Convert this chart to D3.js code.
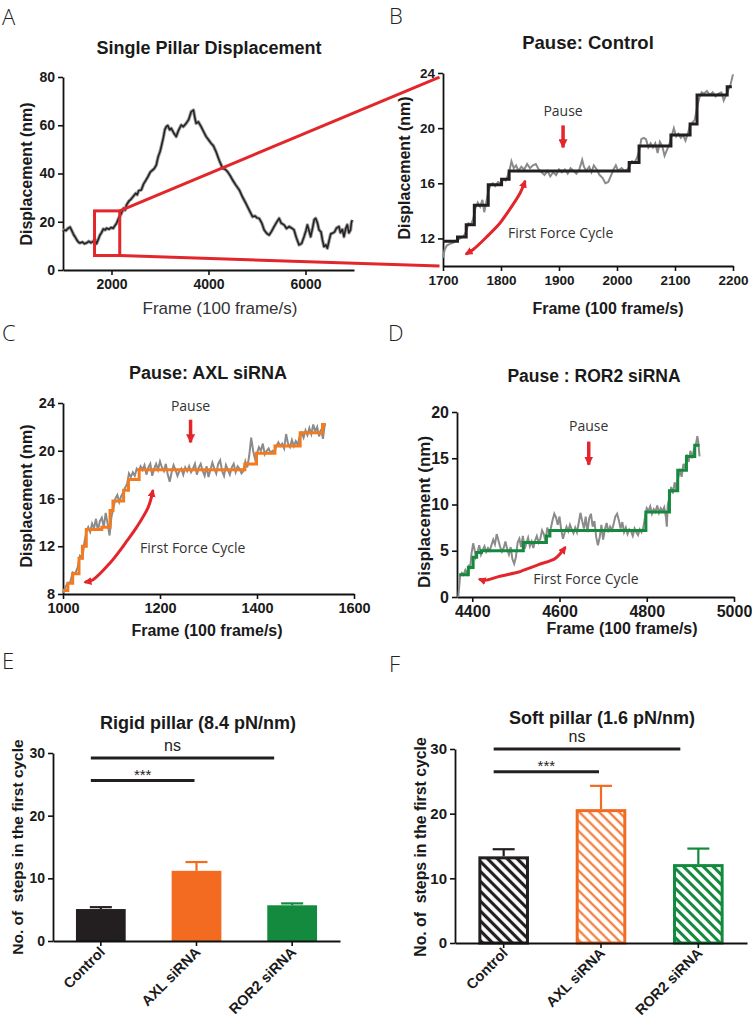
<!DOCTYPE html>
<html><head><meta charset="utf-8">
<script src="https://cdn.jsdelivr.net/npm/d3@7"></script>
<style>body{margin:0;background:#fff} svg{display:block}</style>
</head><body>
<svg id="fig" width="752" height="1022"></svg>
<script>
// ---------------- DATA ----------------
// Panel A: single pillar displacement trace [frame, nm]
const traceA = [[1000,15.9],[1030,16.6],[1060,16.3],[1100,17.2],[1144,17.8],[1180,16.4],[1220,14.6],[1246,13.8],[1290,12.3],[1320,11.5],[1350,11.2],[1400,11.6],[1440,10.9],[1486,11.2],[1530,11.9],[1580,11.3],[1622,11.9],[1660,12.6],[1692,10.9],[1730,12.8],[1760,14.4],[1795,15.5],[1830,17.0],[1870,16.6],[1897,17.3],[1950,16.9],[1990,17.6],[2035,17.3],[2070,18.4],[2103,19.3],[2150,21.6],[2205,23.5],[2250,25.6],[2280,24.8],[2308,26.9],[2360,28.6],[2400,29.3],[2444,30.4],[2500,31.8],[2530,31.2],[2560,32.9],[2615,33.2],[2660,35.6],[2700,36.9],[2752,38.7],[2800,40.6],[2840,41.3],[2880,42.0],[2923,43.5],[2960,46.8],[3000,49.0],[3026,51.1],[3070,55.0],[3100,58.2],[3129,59.4],[3160,59.9],[3200,58.1],[3232,58.7],[3280,56.9],[3334,55.3],[3380,57.8],[3437,60.1],[3480,59.4],[3540,60.8],[3590,62.3],[3643,65.6],[3690,66.3],[3720,63.0],[3745,60.8],[3790,61.4],[3848,59.4],[3900,57.3],[3951,55.3],[4000,54.0],[4053,52.5],[4100,51.5],[4156,49.0],[4220,45.5],[4292,42.1],[4340,41.8],[4395,40.7],[4450,39.0],[4497,37.3],[4560,35.3],[4634,33.2],[4700,30.3],[4771,27.6],[4840,24.8],[4908,22.1],[4960,22.4],[5000,21.6],[5045,21.4],[5100,19.4],[5148,16.6],[5200,15.2],[5251,14.5],[5300,16.0],[5353,18.0],[5400,19.6],[5456,21.4],[5500,19.4],[5559,18.7],[5610,17.2],[5661,18.0],[5720,17.3],[5764,16.6],[5810,13.5],[5867,10.4],[5920,11.0],[5970,13.8],[6010,16.4],[6039,18.7],[6075,16.2],[6107,13.8],[6150,17.8],[6180,20.9],[6210,21.4],[6245,19.6],[6279,16.6],[6320,15.8],[6350,12.4],[6381,9.7],[6420,10.4],[6450,9.0],[6490,12.5],[6520,15.0],[6553,15.2],[6600,15.8],[6640,17.4],[6690,18.0],[6720,15.5],[6760,16.8],[6793,13.8],[6830,17.2],[6861,18.7],[6895,15.4],[6929,16.6],[6945,19.5],[6963,20.7]];
// zoom box drawn in panel A [frame0, frame1, nm0, nm1]
const zoomBox = [1650, 2170, 6, 24.5];

// Panel B: control (grey raw, black step fit)
const rawB = [[1700,10.6],[1703,11.2],[1707,11.5],[1712,11.6],[1718,11.7],[1724,11.9],[1730,12.0],[1736,12.2],[1740,12.5],[1744,13.1],[1748,13.0],[1752,13.4],[1756,14.2],[1760,14.6],[1764,14.3],[1768,14.8],[1771,13.9],[1774,14.5],[1778,15.4],[1782,15.9],[1786,16.0],[1790,15.8],[1795,16.1],[1800,16.0],[1804,16.3],[1808,16.2],[1812,16.6],[1815,17.0],[1818,17.6],[1822,17.1],[1826,17.3],[1830,16.9],[1835,17.2],[1840,17.0],[1845,17.4],[1850,17.1],[1855,17.3],[1860,17.4],[1865,17.0],[1870,16.8],[1875,16.6],[1880,16.9],[1885,16.5],[1890,16.8],[1895,16.6],[1900,17.0],[1905,16.8],[1910,17.0],[1915,16.7],[1920,17.1],[1925,16.9],[1930,16.7],[1935,17.0],[1940,17.7],[1943,17.2],[1947,16.9],[1952,17.2],[1956,16.8],[1960,17.3],[1965,17.0],[1970,16.6],[1975,16.4],[1980,16.0],[1985,16.1],[1990,16.6],[1994,17.0],[1998,17.3],[2002,16.9],[2008,17.1],[2013,16.9],[2018,17.0],[2022,17.3],[2026,17.6],[2030,17.5],[2034,17.8],[2038,18.3],[2042,19.2],[2046,19.3],[2050,19.2],[2054,18.6],[2058,18.9],[2062,18.6],[2066,18.9],[2070,18.2],[2074,19.0],[2078,18.7],[2082,18.0],[2086,18.4],[2090,18.8],[2094,19.4],[2098,20.0],[2102,19.4],[2106,19.6],[2110,19.3],[2114,19.5],[2118,19.1],[2122,19.6],[2126,20.2],[2130,20.4],[2134,20.6],[2138,21.5],[2142,22.2],[2146,22.6],[2150,22.5],[2155,22.7],[2160,22.4],[2165,22.6],[2170,22.3],[2175,22.5],[2180,22.6],[2184,22.0],[2188,22.4],[2192,22.8],[2196,23.2],[2200,23.9]];
const stepsB = [[1700,11.8],[1725,12.1],[1740,13.0],[1754,14.4],[1778,15.9],[1801,16.3],[1814,16.9],[2021,17.5],[2038,18.7],[2093,19.5],[2126,20.3],[2138,22.4],[2190,23.0],[2198,23.0]];
const cycleB = [[1741,10.9],[1752,11.2],[1775,12.1],[1798,13.1],[1810,13.8],[1833,15.3],[1841,16.1]];

// Panel C: AXL siRNA
const rawC = [[1000,8.1],[1005,8.6],[1010,8.9],[1015,9.0],[1020,9.8],[1025,9.7],[1030,10.2],[1035,11.2],[1040,11.0],[1044,12.3],[1048,13.2],[1052,13.6],[1056,13.2],[1060,13.9],[1064,13.5],[1068,14.3],[1072,13.3],[1076,14.1],[1080,14.4],[1084,13.6],[1088,14.8],[1092,13.9],[1096,12.9],[1100,14.5],[1104,15.2],[1108,16.0],[1112,16.3],[1116,15.7],[1120,16.2],[1124,16.5],[1128,16.9],[1132,17.2],[1136,18.1],[1140,17.8],[1144,18.2],[1148,17.9],[1152,18.5],[1156,18.3],[1160,18.7],[1164,18.4],[1168,18.8],[1172,18.0],[1176,18.6],[1180,18.9],[1184,17.9],[1188,18.5],[1192,18.9],[1196,18.4],[1200,19.1],[1204,18.6],[1208,18.3],[1212,18.9],[1216,18.0],[1220,17.4],[1224,18.2],[1228,18.8],[1232,18.4],[1236,17.9],[1240,18.3],[1244,18.5],[1248,18.0],[1252,18.6],[1256,18.3],[1260,18.7],[1264,18.2],[1268,18.5],[1272,18.9],[1276,18.0],[1280,18.6],[1284,18.9],[1288,18.3],[1292,17.9],[1296,18.7],[1300,17.8],[1304,18.4],[1308,19.0],[1312,18.5],[1316,18.1],[1320,18.9],[1324,19.2],[1328,18.3],[1332,17.9],[1336,18.8],[1340,18.4],[1344,18.0],[1348,18.6],[1352,18.9],[1356,18.2],[1360,18.7],[1364,18.5],[1368,18.1],[1372,18.3],[1376,19.1],[1380,18.6],[1384,19.6],[1388,21.1],[1392,20.0],[1396,19.3],[1400,19.8],[1404,20.3],[1408,20.0],[1412,20.6],[1416,19.7],[1420,20.0],[1424,20.2],[1428,19.8],[1432,20.0],[1436,19.9],[1440,20.4],[1444,20.7],[1448,20.4],[1452,20.6],[1456,20.2],[1460,21.4],[1464,20.6],[1468,20.3],[1472,20.9],[1476,20.4],[1480,20.8],[1484,20.5],[1488,21.2],[1492,21.5],[1496,21.1],[1500,21.7],[1504,21.3],[1508,21.9],[1512,21.4],[1516,22.2],[1520,21.6],[1524,22.0],[1528,21.2],[1532,21.8],[1536,21.0],[1540,22.3]];
const stepsC = [[1000,8.3],[1010,8.9],[1020,9.7],[1033,11.0],[1040,12.0],[1048,13.4],[1080,13.6],[1097,15.0],[1103,15.8],[1125,16.7],[1135,17.6],[1157,18.4],[1375,18.9],[1399,19.8],[1437,20.4],[1489,21.5],[1535,22.2],[1542,22.2]];
const cycleC = [[1047,9.0],[1062,9.2],[1097,10.6],[1124,12.0],[1131,12.4],[1152,13.6],[1176,15.3],[1185,16.6]];

// Panel D: ROR2 siRNA
const rawD = [[4368,0.0],[4372,2.2],[4376,2.6],[4380,2.4],[4384,2.9],[4388,2.5],[4392,3.5],[4395,3.0],[4398,4.6],[4402,5.8],[4405,5.2],[4408,4.3],[4412,4.8],[4416,5.6],[4420,4.6],[4424,5.1],[4428,5.5],[4432,4.9],[4436,5.3],[4440,5.0],[4444,5.6],[4448,6.2],[4452,5.7],[4456,6.8],[4460,6.1],[4464,5.4],[4468,4.9],[4472,5.3],[4476,6.0],[4480,5.2],[4484,4.6],[4488,5.4],[4492,4.1],[4496,3.6],[4500,4.3],[4504,5.9],[4508,6.3],[4512,5.4],[4516,6.6],[4520,5.2],[4524,5.8],[4528,6.4],[4532,5.5],[4536,6.0],[4540,5.3],[4544,6.1],[4548,6.6],[4552,5.9],[4556,6.3],[4560,7.2],[4564,6.8],[4568,6.0],[4572,7.5],[4576,6.9],[4580,7.4],[4584,8.3],[4588,9.0],[4592,8.6],[4596,7.8],[4600,8.7],[4604,7.2],[4608,6.3],[4612,7.0],[4616,7.6],[4620,7.1],[4624,7.8],[4628,7.3],[4632,6.9],[4636,7.5],[4640,7.0],[4644,8.0],[4648,9.1],[4652,8.2],[4656,7.4],[4660,8.7],[4664,7.0],[4668,8.5],[4672,9.0],[4676,7.6],[4680,8.2],[4684,6.5],[4688,5.6],[4692,6.4],[4696,7.8],[4700,6.2],[4704,7.3],[4708,8.0],[4712,7.0],[4716,7.6],[4720,7.2],[4724,7.9],[4728,8.7],[4732,9.0],[4736,8.3],[4740,7.4],[4744,8.1],[4748,7.0],[4752,7.5],[4756,6.8],[4760,7.3],[4764,7.1],[4768,6.6],[4772,7.4],[4776,7.0],[4780,6.7],[4784,7.3],[4788,7.0],[4792,7.5],[4796,8.6],[4800,9.6],[4804,9.3],[4808,9.8],[4812,9.0],[4816,9.5],[4820,9.2],[4824,9.9],[4828,9.1],[4832,9.6],[4836,9.3],[4840,9.7],[4844,8.6],[4846,7.6],[4848,9.9],[4852,10.8],[4856,11.9],[4860,11.2],[4864,12.4],[4868,11.6],[4872,12.9],[4876,13.6],[4880,13.0],[4884,14.4],[4888,13.9],[4892,15.4],[4896,14.6],[4900,15.8],[4904,15.0],[4908,15.9],[4912,16.3],[4916,17.4],[4918,16.8],[4921,15.2]];
const stepsD = [[4370,2.4],[4391,3.2],[4402,4.3],[4410,4.8],[4421,5.0],[4517,5.9],[4570,6.6],[4578,7.2],[4798,9.2],[4852,11.5],[4871,13.7],[4891,15.2],[4910,16.4],[4921,16.4]];
const cycleD = [[4418,1.9],[4430,1.8],[4460,2.2],[4506,2.7],[4518,2.9],[4552,3.5],[4591,4.2],[4612,5.3]];

// "Pause" annotations [frame, nmTop, nmBottom]
const pauseB = [1907, 20.2, 18.6];
const pauseC = [1263, 22.6, 20.7];
const pauseD = [4667, 16.8, 14.3];

// Panels E/F: bar charts
const groups = ["Control", "AXL siRNA", "ROR2 siRNA"];
const rigidMean = [5.1, 11.2, 5.7];
const rigidErrTop = [5.4, 12.6, 6.0];
const softMean = [13.4, 20.7, 12.2];
const softErrTop = [14.5, 24.3, 14.6];
const rigidSig = [29.2, 25.6];   // ns line, *** line
const softSig = [30.0, 26.5];
const barTicks = [0, 10, 20, 30];

// ---------------- STYLE ----------------
const RED = "#e3262b";
const INK = "#231f20";
const ORANGE = "#f26b21";
const GREEN = "#138a3e";
const GREY = "#8b8b8b";
const FONT = "'Liberation Sans', Arial, Helvetica, sans-serif";
const NFONT = "'Open Sans', 'Noto Sans', sans-serif";
const barColors = [INK, ORANGE, GREEN];

const svg = d3.select("#fig");
const defs = svg.append("defs");
defs.append("marker").attr("id","ah").attr("viewBox","0 0 10 10")
  .attr("refX",7).attr("refY",5).attr("markerWidth",8).attr("markerHeight",8)
  .attr("markerUnits","userSpaceOnUse").attr("orient","auto-start-reverse")
  .append("path").attr("d","M0,0L10,5L0,10z").attr("fill",RED);
defs.append("marker").attr("id","ahp").attr("viewBox","0 0 10 10")
  .attr("refX",9).attr("refY",5).attr("markerWidth",9).attr("markerHeight",9)
  .attr("markerUnits","userSpaceOnUse").attr("orient","auto")
  .append("path").attr("d","M0,0L10,5L0,10z").attr("fill",RED);

function hatch(id, color, sw) {
  const p = defs.append("pattern").attr("id", id).attr("patternUnits","userSpaceOnUse")
    .attr("width", 7).attr("height", 7).attr("patternTransform","rotate(-45)");
  p.append("rect").attr("width",7).attr("height",7).attr("fill","#fff");
  p.append("line").attr("x1",3.5).attr("x2",3.5).attr("y1",0).attr("y2",7)
    .attr("stroke", color).attr("stroke-width", sw);
}
hatch("hK", INK, 3.2); hatch("hO", ORANGE, 2); hatch("hG", GREEN, 3);
const hatchIds = ["hK","hO","hG"];

function styleAxis(sel, fs) {
  sel.selectAll("path,line").attr("stroke", "#111").attr("stroke-width", 1.6);
  sel.selectAll("text").attr("font-family", FONT).attr("font-weight", "bold")
    .attr("font-size", fs).attr("fill", "#1a1a1a");
}

function letter(t, x, y) {
  svg.append("text").attr("x", x).attr("y", y).text(t)
    .attr("font-family", NFONT).attr("font-weight", 300).attr("font-size", 22).attr("fill", "#222");
}
function text(t, x, y, fs, opts = {}) {
  return svg.append("text").attr("x", x).attr("y", y).text(t)
    .attr("font-family", opts.family || FONT).attr("font-weight", opts.weight || "bold")
    .attr("font-size", fs).attr("text-anchor", opts.anchor || "middle")
    .attr("fill", opts.fill || "#1a1a1a").style("white-space", "pre");
}
function ytitle(t, cx, cy, fs) {
  svg.append("text").attr("transform", `translate(${cx},${cy}) rotate(-90)`).attr("dy", "0.35em")
    .text(t).attr("font-family", FONT).attr("font-weight", "bold").attr("font-size", fs)
    .attr("text-anchor", "middle").attr("fill", "#1a1a1a").style("white-space", "pre");
}

function linePanel(cfg) {
  const x = d3.scaleLinear().domain(cfg.xd).range(cfg.xr);
  const y = d3.scaleLinear().domain(cfg.yd).range(cfg.yr);
  const g = svg.append("g");
  g.append("g").attr("transform", `translate(0,${cfg.yr[0]})`)
    .call(d3.axisBottom(x).tickValues(cfg.xt).tickSize(5).tickSizeOuter(0).tickPadding(4).tickFormat(d3.format("d")))
    .call(s => styleAxis(s, cfg.fs));
  g.append("g").attr("transform", `translate(${cfg.xr[0]},0)`)
    .call(d3.axisLeft(y).tickValues(cfg.yt).tickSize(5).tickSizeOuter(0).tickPadding(3))
    .call(s => styleAxis(s, cfg.fs));
  g.selectAll(".domain").attr("stroke-width", 1.8);
  return {x, y, g};
}

const lineGen = (x, y) => d3.line().x(d => x(d[0])).y(d => y(d[1]));
const stepGen = (x, y) => d3.line().x(d => x(d[0])).y(d => y(d[1])).curve(d3.curveStepAfter);

function annotate(P, cycle, pause, pauseTextY, cycleText) {
  P.g.append("path").attr("d", lineGen(P.x, P.y).curve(d3.curveCatmullRom)(cycle))
    .attr("fill", "none").attr("stroke", RED).attr("stroke-width", 3).attr("stroke-linecap","round")
    .attr("marker-start", "url(#ah)").attr("marker-end", "url(#ah)");
  P.g.append("line").attr("x1", P.x(pause[0])).attr("x2", P.x(pause[0]))
    .attr("y1", P.y(pause[1])).attr("y2", P.y(pause[2]))
    .attr("stroke", RED).attr("stroke-width", 3.5).attr("marker-end", "url(#ahp)");
  text("Pause", P.x(pause[0]), P.y(pauseTextY), 14, {family: NFONT, weight: 400, fill: "#333"});
  text("First Force Cycle", P.x(cycleText[0]), P.y(cycleText[1]), 14, {family: NFONT, weight: 400, fill: "#333", anchor: "start"});
}

// ---------------- PANEL A ----------------
letter("A", 2, 25);
const A = linePanel({xd: [1000, 7000], xr: [63, 354], yd: [0, 80], yr: [270, 77], xt: [2000, 4000, 6000], yt: [0, 20, 40, 60, 80], fs: 14});
A.g.append("path").attr("d", lineGen(A.x, A.y)(traceA)).attr("fill","none").attr("stroke","#9a9a9a").attr("stroke-width",3.4).attr("stroke-linejoin","round");
A.g.append("path").attr("d", lineGen(A.x, A.y)(traceA)).attr("fill","none").attr("stroke",INK).attr("stroke-width",1.5).attr("stroke-linejoin","round");
text("Single Pillar Displacement", 209, 54, 18);
text("Frame (100 frame/s)", 220, 314, 17, {weight: "normal", fill: "#333"});
ytitle("Displacement (nm)", 26, 174, 16);

// ---------------- PANEL B ----------------
letter("B", 389, 24);
const B = linePanel({xd: [1700, 2200], xr: [443, 733], yd: [10, 24], yr: [266, 73], xt: [1700, 1800, 1900, 2000, 2100, 2200], yt: [12, 16, 20, 24], fs: 13.5});
B.g.append("path").attr("d", lineGen(B.x, B.y)(rawB)).attr("fill","none").attr("stroke",GREY).attr("stroke-width",2);
B.g.append("path").attr("d", stepGen(B.x, B.y)(stepsB)).attr("fill","none").attr("stroke",INK).attr("stroke-width",3);
annotate(B, cycleB, pauseB, 20.9, [1812, 12.0]);
text("Pause: Control", 588, 49, 18.5);
text("Frame (100 frame/s)", 608, 314, 16);
ytitle("Displacement (nm)", 404, 168, 16);

// zoom box + connectors
svg.append("rect").attr("x", A.x(zoomBox[0])).attr("y", A.y(zoomBox[3]))
  .attr("width", A.x(zoomBox[1]) - A.x(zoomBox[0])).attr("height", A.y(zoomBox[2]) - A.y(zoomBox[3]))
  .attr("fill", "none").attr("stroke", RED).attr("stroke-width", 3);
svg.append("line").attr("x1", A.x(zoomBox[1])).attr("y1", A.y(zoomBox[3])).attr("x2", B.x(1694)).attr("y2", B.y(23.7))
  .attr("stroke", RED).attr("stroke-width", 3);
svg.append("line").attr("x1", A.x(zoomBox[1])).attr("y1", A.y(zoomBox[2])).attr("x2", B.x(1694)).attr("y2", B.y(10))
  .attr("stroke", RED).attr("stroke-width", 3);

// ---------------- PANEL C ----------------
letter("C", 2, 341);
const C = linePanel({xd: [1000, 1600], xr: [63, 354], yd: [8, 24], yr: [594, 403], xt: [1000, 1200, 1400, 1600], yt: [8, 12, 16, 20, 24], fs: 14.5});
C.g.append("path").attr("d", lineGen(C.x, C.y)(rawC)).attr("fill","none").attr("stroke",GREY).attr("stroke-width",2);
C.g.append("path").attr("d", stepGen(C.x, C.y)(stepsC)).attr("fill","none").attr("stroke","#f47a20").attr("stroke-width",3);
annotate(C, cycleC, pauseC, 23.36, [1159, 11.46]);
text("Pause: AXL siRNA", 208, 379, 18);
text("Frame (100 frame/s)", 207, 636, 16);
ytitle("Displacement (nm)", 26, 496, 16);

// ---------------- PANEL D ----------------
letter("D", 388, 341);
const D = linePanel({xd: [4365, 5000], xr: [457, 734], yd: [0, 20], yr: [597, 412], xt: [4400, 4600, 4800, 5000], yt: [0, 5, 10, 15, 20], fs: 16});
D.g.append("path").attr("d", lineGen(D.x, D.y)(rawD)).attr("fill","none").attr("stroke",GREY).attr("stroke-width",2);
D.g.append("path").attr("d", stepGen(D.x, D.y)(stepsD)).attr("fill","none").attr("stroke",GREEN).attr("stroke-width",3);
annotate(D, cycleD, pauseD, 17.95, [4540, 1.4]);
text("Pause : ROR2 siRNA", 594, 382, 17.5);
text("Frame (100 frame/s)", 622, 634, 16);
ytitle("Displacement (nm)", 424, 512, 17);

// ---------------- BAR PANELS ----------------
function barPanel(cfg) {
  const x = d3.scaleBand().domain(groups).range(cfg.xr).paddingInner(0.48).paddingOuter(0.24);
  const y = d3.scaleLinear().domain([0, 30]).range(cfg.yr);
  const g = svg.append("g");
  const bw = x.bandwidth();
  groups.forEach((k, i) => {
    const cx = x(k) + bw / 2;
    const col = barColors[i];
    g.append("line").attr("x1", cx).attr("x2", cx).attr("y1", y(cfg.mean[i])).attr("y2", y(cfg.err[i]))
      .attr("stroke", col).attr("stroke-width", 2.2);
    g.append("line").attr("x1", cx - 11).attr("x2", cx + 11).attr("y1", y(cfg.err[i])).attr("y2", y(cfg.err[i]))
      .attr("stroke", col).attr("stroke-width", 2.2);
    if (cfg.hatched) {
      g.append("rect").attr("x", x(k) + 1.5).attr("width", bw - 3).attr("y", y(cfg.mean[i]) + 1.5)
        .attr("height", y(0) - y(cfg.mean[i]) - 1.5).attr("fill", `url(#${hatchIds[i]})`)
        .attr("stroke", col).attr("stroke-width", 3);
    } else {
      g.append("rect").attr("x", x(k)).attr("width", bw).attr("y", y(cfg.mean[i]))
        .attr("height", y(0) - y(cfg.mean[i])).attr("fill", col);
    }
  });
  const xa = g.append("g").attr("transform", `translate(0,${cfg.yr[0]})`)
    .call(d3.axisBottom(x).tickSize(5).tickSizeOuter(0).tickPadding(4)).call(s => styleAxis(s, cfg.lfs));
  xa.selectAll("text").attr("text-anchor", "end").attr("x", 0).attr("y", 0).attr("dy", 0)
    .attr("transform", `translate(5,${cfg.ly}) rotate(-45)`);
  g.append("g").attr("transform", `translate(${cfg.xr[0]},0)`)
    .call(d3.axisLeft(y).tickValues(barTicks).tickSize(5).tickSizeOuter(0).tickPadding(3)).call(s => styleAxis(s, cfg.fs));
  g.selectAll(".domain").attr("stroke-width", 1.8);
  // significance
  const c0 = x(groups[0]) + bw / 2, c1 = x(groups[1]) + bw / 2, c2 = x(groups[2]) + bw / 2;
  const s0 = c0 - 10;
  g.append("line").attr("x1", s0).attr("x2", c2 - 18).attr("y1", y(cfg.sig[0])).attr("y2", y(cfg.sig[0]))
    .attr("stroke", INK).attr("stroke-width", 3);
  g.append("line").attr("x1", s0).attr("x2", c1 - 2).attr("y1", y(cfg.sig[1])).attr("y2", y(cfg.sig[1]))
    .attr("stroke", INK).attr("stroke-width", 3);
  text("ns", (s0 + c2 - 18) / 2 - 10, y(cfg.sig[0]) - 7, 16, {weight: "normal", fill: "#222"});
  text("***", (s0 + c1 - 2) / 2, y(cfg.sig[1]) - 1, 15, {weight: "normal", fill: "#222"});
  return {x, y, g};
}

letter("E", 2, 669);
barPanel({xr: [53, 340], yr: [941, 753], mean: rigidMean, err: rigidErrTop, sig: rigidSig, hatched: false, fs: 14, lfs: 14.5, ly: 12});
text("Rigid pillar (8.4 pN/nm)", 198, 729, 18);
ytitle("No. of  steps in the first cycle", 18, 847, 15.5);

letter("F", 389, 672);
barPanel({xr: [455, 747], yr: [943, 749], mean: softMean, err: softErrTop, sig: softSig, hatched: true, fs: 15, lfs: 14.5, ly: 11});
text("Soft pillar (1.6 pN/nm)", 602, 724, 18);
ytitle("No. of  steps in the first cycle", 420, 847, 15.8);
</script>
</body></html>
